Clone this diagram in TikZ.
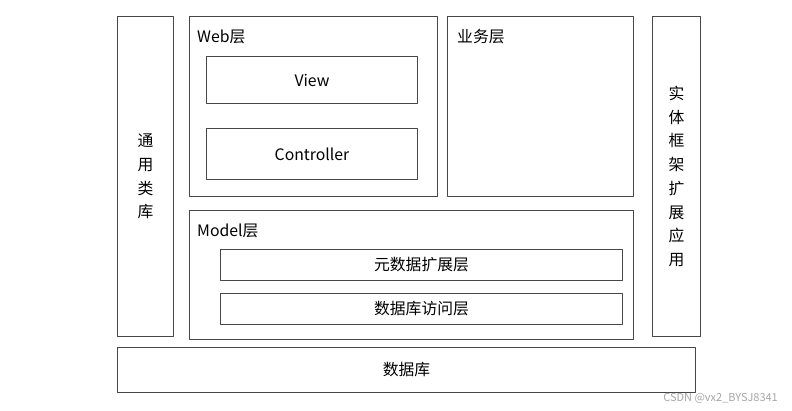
\documentclass[tikz,border=0pt]{standalone}
\usepackage{fontspec}
\setmainfont{Noto Sans CJK SC}
\begin{document}
\begin{tikzpicture}[x=1pt,y=-1pt,line join=round,font=\fontsize{15.8}{23.7}\selectfont,
    box/.style={draw=black!72,line width=1pt,fill=white,inner sep=0pt,anchor=north west},
    vtext/.style={align=center,inner sep=0pt}]
            \useasboundingbox (0,0) rectangle (792,411);
            % left and right columns
            \node[box,minimum width=56,minimum height=320] (common) at (117,16) {};
            \node[vtext] (commonlbl) at (common.center) {通\\用\\类\\库};
            \node[box,minimum width=48,minimum height=320] (entity) at (652,16) {};
            \node[vtext] (entitylbl) at (entity.center) {实\\体\\框\\架\\扩\\展\\应\\用};
            % web layer
            \node[box,minimum width=248,minimum height=180] (web) at (189,16) {};
            \node[anchor=west,inner sep=0pt] (weblbl) at (197,37) {Web层};
            \node[box,minimum width=211,minimum height=47] (view) at (206,56) {};
            \node (viewlbl) at (view.center) {View};
            \node[box,minimum width=211,minimum height=51] (ctrl) at (206,128) {};
            \node (ctrllbl) at (ctrl.center) {Controller};
            % service layer
            \node[box,minimum width=186,minimum height=180] (biz) at (447,16) {};
            \node[anchor=west,inner sep=0pt] (bizlbl) at (457,37) {业务层};
            % model layer
            \node[box,minimum width=444,minimum height=129] (model) at (189,210) {};
            \node[anchor=west,inner sep=0pt] (modellbl) at (197,231) {Model层};
            \node[box,minimum width=402,minimum height=31] (meta) at (220,249) {};
            \node (metalbl) at (meta.center) {元数据扩展层};
            \node[box,minimum width=402,minimum height=31] (dao) at (220,293) {};
            \node (daolbl) at (dao.center) {数据库访问层};
            % database
            \node[box,minimum width=578,minimum height=45] (db) at (117,347) {};
            \node (dblbl) at (db.center) {数据库};
            \node[anchor=east,inner sep=0pt,text=black!35,font=\fontsize{11}{13}\selectfont] (mark) at (778,398) {CSDN @vx2\_BYSJ8341};
        \end{tikzpicture}
\end{document}
